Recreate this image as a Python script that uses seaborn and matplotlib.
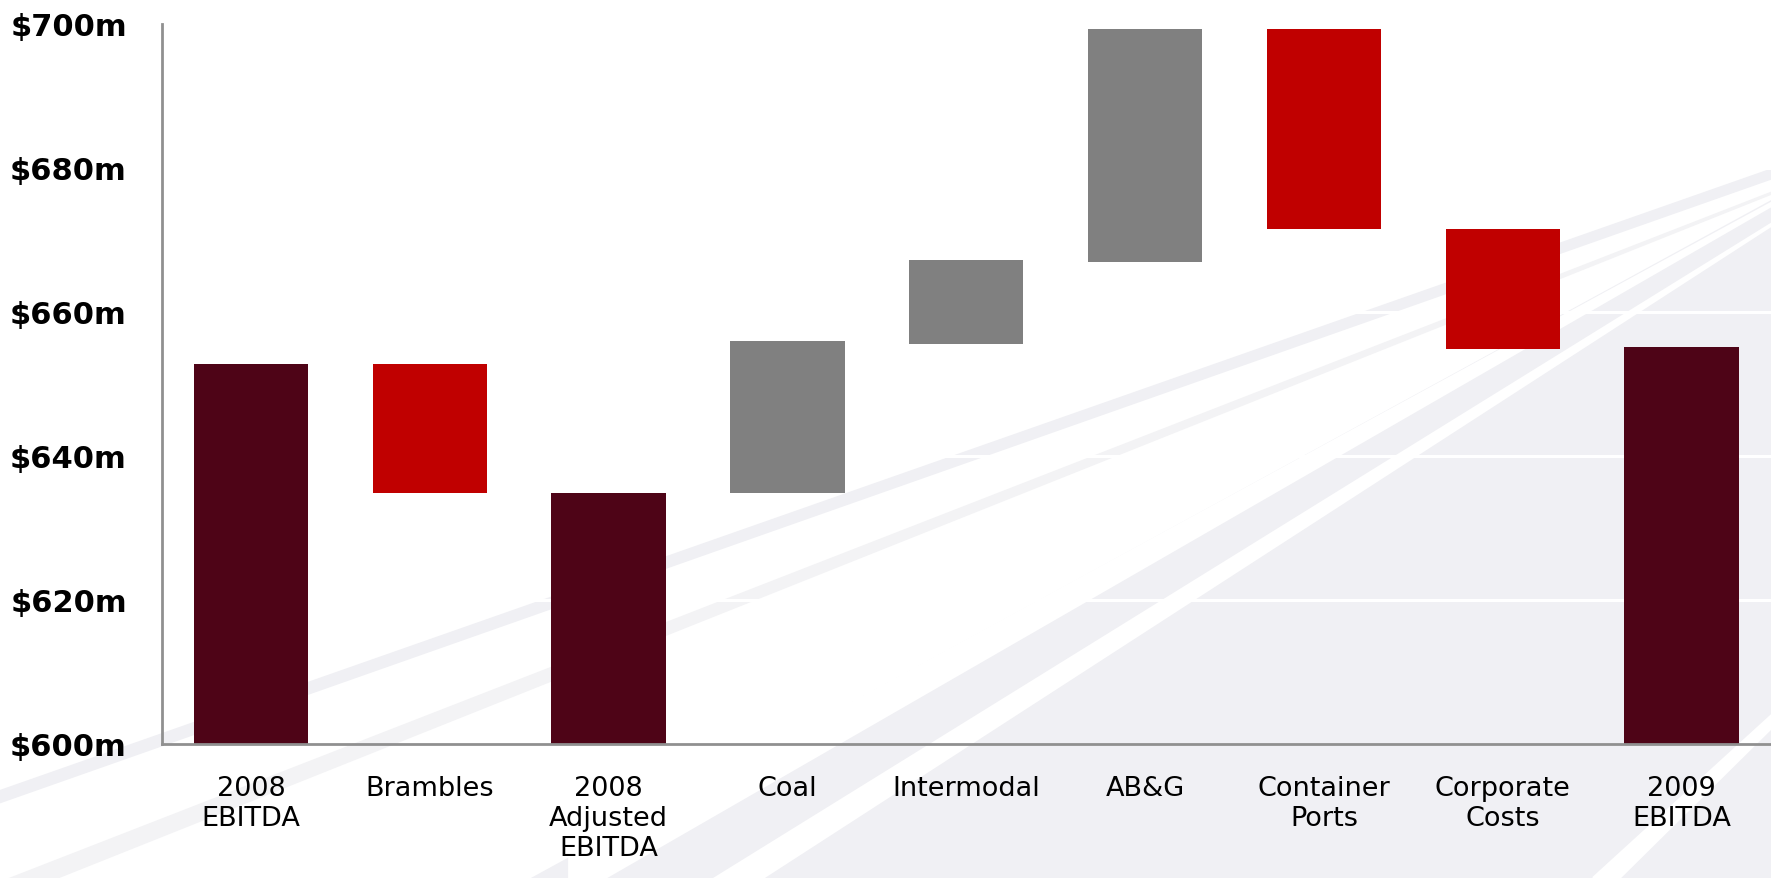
import numpy as np
import pandas as pd
import matplotlib
matplotlib.use("Agg")
import matplotlib.pyplot as plt
from matplotlib.patches import Polygon
import seaborn as sns

# Waterfall data ($m)
categories = ["2008\nEBITDA", "Brambles", "2008\nAdjusted\nEBITDA", "Coal", "Intermodal",
              "AB&G", "Container\nPorts", "Corporate\nCosts", "2009\nEBITDA"]
bar_start = [600.0, 652.8, 600.0, 634.8, 655.6, 666.9, 699.3, 671.5, 600.0]
bar_end = [652.8, 634.8, 634.8, 656.0, 667.2, 699.3, 671.5, 654.9, 655.2]
bar_kind = ["total", "down", "total", "up", "up", "up", "down", "down", "total"]
y_ticks = [600, 620, 640, 660, 680, 700]

kleur = {"total": "#4e0417", "down": "#c00000", "up": "#808080"}

df = pd.DataFrame({"kategori": categories, "start": bar_start, "end": bar_end, "jenis": bar_kind})
df["bawah"] = df[["start", "end"]].min(axis=1)
df["tinggi"] = (df["end"] - df["start"]).abs()

sns.set_style("white")
plt.rcParams["font.family"] = ["DejaVu Sans"]
plt.rcParams["text.color"] = "black"
plt.rcParams["xtick.labelcolor"] = "black"
plt.rcParams["ytick.labelcolor"] = "black"

W, H = 1771, 879
fig = plt.figure(figsize=(W / 100, H / 100), dpi=100)
fig.patch.set_facecolor("white")


# background swooshes (coords in px of a 1568x778 view)
def poly(pts, warna):
    pts = [(x / 1568, 1 - y / 778) for x, y in pts]
    fig.add_artist(Polygon(pts, closed=True, transform=fig.transFigure,
                           facecolor=warna, edgecolor="none", zorder=0))


def streak(x0, y0, x1, y1, w0, w1, warna):
    poly([(x0, y0 - w0 / 2), (x1, y1 - w1 / 2), (x1, y1 + w1 / 2), (x0, y0 + w0 / 2)], warna)


abu = "#f0f0f4"
poly([(0, 700), (1568, 150), (1568, 778), (0, 778)], abu)
poly([(0, 712), (1568, 160), (1568, 178), (470, 778), (0, 778)], "white")
streak(0, 790, 1568, 172, 18, 3, "#f3f3f5")
streak(503, 778, 1568, 182, 40, 5, "white")
streak(620, 800, 1568, 200, 30, 4, "white")
streak(1410, 790, 1568, 640, 26, 14, "white")

ax = fig.add_axes([161.5 / W, 1 - 745 / H, 1 - 161.5 / W, 720 / H])
ax.set_facecolor("none")

sns.barplot(data=df, x="kategori", y="tinggi", bottom=df["bawah"].values,
            color="#808080", width=0.64, saturation=1, ax=ax, zorder=2)
for patch, j in zip(ax.patches, df["jenis"]):
    patch.set_facecolor(kleur[j])
    patch.set_edgecolor("none")

# white gridlines
for yv in y_ticks[1:-1]:
    ax.axhline(yv, color="white", lw=2.2, zorder=1)

ax.set_ylim(600, 700)
ax.set_xlim(-0.5, len(categories) - 0.5)
ax.set_yticks(y_ticks)
ax.set_yticklabels([f"${v}m" for v in y_ticks], fontsize=22, fontweight="bold")
ax.set_xticks(range(len(categories)))
ax.set_xticklabels(categories, fontsize=19.5, linespacing=1.2)
ax.set_xticks(np.arange(-0.5, len(categories), 1.0), minor=True)
ax.tick_params(axis="x", which="major", length=0, pad=22)
ax.tick_params(axis="x", which="minor", length=8, width=1.5, color="#909090")
ax.tick_params(axis="y", which="major", length=9, width=2, color="#909090", pad=16)
ax.set_xlabel("")
ax.set_ylabel("")

sns.despine(ax=ax, top=True, right=True)
for s in ["left", "bottom"]:
    ax.spines[s].set_color("#909090")
    ax.spines[s].set_linewidth(2)
    ax.spines[s].set_zorder(3)

fig.savefig("out.png", dpi=100)
